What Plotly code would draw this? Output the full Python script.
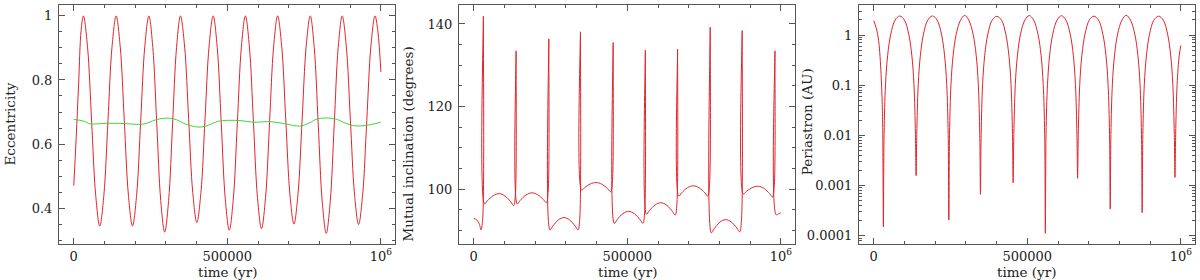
import plotly.graph_objects as go

# inner-orbit eccentricity (red)
t_ecc = [0, 8000, 16000, 24000, 31500,
         44812, 58125, 71438, 84750, 98062, 111375, 124688, 138000,
         151325, 164650, 177975, 191300, 204625, 217950, 231275, 244600,
         257462, 270325, 283188, 296050, 308912, 321775, 334638, 347500,
         360812, 374125, 387438, 400750, 414062, 427375, 440688, 454000,
         467100, 480200, 493300, 506400, 519500, 532600, 545700, 558800,
         571925, 585050, 598175, 611300, 624425, 637550, 650675, 663800,
         677075, 690350, 703625, 716900, 730175, 743450, 756725, 770000,
         783000, 796000, 809000, 822000, 835000, 848000, 861000, 874000,
         887350, 900700, 914050, 927400, 940750, 954100, 967450, 980800,
         990000, 1000000]
ecc_inner = [0.47, 0.62, 0.79, 0.955, 1.0,
             0.904, 0.672, 0.440, 0.344, 0.440, 0.672, 0.904, 1.0,
             0.904, 0.672, 0.440, 0.344, 0.440, 0.672, 0.904, 1.0,
             0.901, 0.6625, 0.424, 0.325, 0.424, 0.6625, 0.901, 1.0,
             0.906, 0.6775, 0.449, 0.355, 0.449, 0.6775, 0.906, 1.0,
             0.902, 0.6655, 0.429, 0.331, 0.429, 0.6655, 0.902, 1.0,
             0.903, 0.668, 0.433, 0.336, 0.433, 0.668, 0.903, 1.0,
             0.905, 0.675, 0.445, 0.350, 0.445, 0.675, 0.905, 1.0,
             0.901, 0.6605, 0.420, 0.321, 0.420, 0.6605, 0.901, 1.0,
             0.905, 0.6745, 0.444, 0.349, 0.444, 0.6745, 0.905, 1.0,
             0.953, 0.825]

# outer-orbit eccentricity (green)
t_outer = [0, 30000, 55000, 110000, 165000, 225000, 265000, 290000, 325000,
           365000, 405000, 430000, 470000, 500000, 545000, 585000, 640000,
           690000, 735000, 765000, 795000, 850000, 885000, 915000, 950000,
           1000000]
ecc_outer = [0.677, 0.672, 0.663, 0.665, 0.664, 0.662, 0.675, 0.680, 0.679,
             0.662, 0.653, 0.656, 0.671, 0.674, 0.673, 0.668, 0.670,
             0.663, 0.656, 0.665, 0.679, 0.679, 0.665, 0.657, 0.658,
             0.668]

# mutual inclination (degrees)
t_incl = [0, 10000, 18000, 23500, 29000, 31500, 35000,
          44500, 63500, 82500, 101500, 120500, 130000, 135500, 138000, 141500,
          151010, 170030, 189050, 208070, 227090, 236600, 242100, 244600, 248100,
          257240, 275520, 293800, 312080, 330360, 339500, 345000, 347500, 351000,
          360500, 379500, 398500, 417500, 436500, 446000, 451500, 454000, 457500,
          466830, 485490, 504150, 522810, 541470, 550800, 556300, 558800, 562300,
          571650, 590350, 609050, 627750, 646450, 655800, 661300, 663800, 667300,
          676770, 695710, 714650, 733590, 752530, 762000, 767500, 770000, 773500,
          782750, 801250, 819750, 838250, 856750, 866000, 871500, 874000, 877500,
          887030, 906090, 925150, 944210, 963270, 972800, 978300, 980800, 984300,
          992000, 1000000]
incl = [92.9, 92.5, 91.6, 90.1, 92.6, 141.9, 96.4,
        97.17, 98.42, 98.9, 98.35, 96.90, 96.0, 98.5, 133.5, 96.4,
        97.23, 98.58, 99.1, 98.64, 97.44, 96.7, 99.2, 136.4, 90.1,
        91.03, 92.53, 93.1, 92.53, 91.03, 90.1, 92.6, 138.1, 99.75,
        100.32, 101.25, 101.6, 101.17, 100.05, 99.35, 101.85, 135.5, 91.7,
        92.60, 94.05, 94.6, 94.05, 92.60, 91.7, 94.2, 133.7, 93.9,
        94.77, 96.17, 96.7, 96.13, 94.63, 93.7, 96.2, 133.9, 98.3,
        99.07, 100.32, 100.8, 100.32, 99.07, 98.3, 100.8, 139.2, 89.4,
        90.39, 91.99, 92.6, 92.04, 90.56, 89.65, 92.15, 138.4, 98.8,
        99.39, 100.34, 100.7, 100.20, 98.90, 98.1, 100.6, 133.5, 93.8,
        94.0, 94.3]

# periastron distance (AU)
t_peri = [0, 8000, 16000, 24000, 27500, 29300, 31500,
          33700, 38500, 45500, 55500, 69500, 84750, 100000, 114000, 124000, 131000, 135800, 138000,
          140200, 145000, 152000, 162000, 176000, 191300, 206600, 220600, 230600, 237600, 242400, 244600,
          246800, 251600, 258600, 268600, 282600, 296050, 309500, 323500, 333500, 340500, 345300, 347500,
          349700, 354500, 361500, 371500, 385500, 400750, 416000, 430000, 440000, 447000, 451800, 454000,
          456200, 461000, 468000, 478000, 492000, 506400, 520800, 534800, 544800, 551800, 556600, 558800,
          561000, 565800, 572800, 582800, 596800, 611300, 625800, 639800, 649800, 656800, 661600, 663800,
          666000, 670800, 677800, 687800, 701800, 716900, 732000, 746000, 756000, 763000, 767800, 770000,
          772200, 777000, 784000, 794000, 808000, 822000, 836000, 850000, 860000, 867000, 871800, 874000,
          876200, 881000, 888000, 898000, 912000, 927400, 942800, 956800, 966800, 973800, 978600, 980800,
          983000, 987800, 994800, 1000000]
peri = [1.93, 1.39, 0.77, 0.165, 0.048, 0.0145, 0.00015,
        0.0104, 0.104, 0.397, 1.039, 1.979, 2.394, 1.979, 1.039, 0.397, 0.104, 0.0104, 0.00158,
        0.0104, 0.104, 0.397, 1.039, 1.979, 2.394, 1.979, 1.039, 0.397, 0.104, 0.0104, 0.000207,
        0.0104, 0.104, 0.397, 1.039, 1.979, 2.464, 1.979, 1.039, 0.397, 0.104, 0.0104, 0.00067,
        0.0104, 0.104, 0.397, 1.039, 1.979, 2.354, 1.979, 1.039, 0.397, 0.104, 0.0104, 0.00114,
        0.0104, 0.104, 0.397, 1.039, 1.979, 2.442, 1.979, 1.039, 0.397, 0.104, 0.0104, 0.000112,
        0.0104, 0.104, 0.397, 1.039, 1.979, 2.424, 1.979, 1.039, 0.397, 0.104, 0.0104, 0.0014,
        0.0104, 0.104, 0.397, 1.039, 1.979, 2.373, 1.979, 1.039, 0.397, 0.104, 0.0104, 0.00034,
        0.0104, 0.104, 0.397, 1.039, 1.979, 2.478, 1.979, 1.039, 0.397, 0.104, 0.0104, 0.00029,
        0.0104, 0.104, 0.397, 1.039, 1.979, 2.376, 1.979, 1.039, 0.397, 0.104, 0.0104, 0.00146,
        0.0104, 0.104, 0.397, 0.62]

x_tickvals = [0, 500000, 1000000]
x_ticktext = ["0", "500000", "10<sup>6</sup>"]
peri_tickvals = [0.0001, 0.001, 0.01, 0.1, 1]
peri_ticktext = ["0.0001", "0.001", "0.01", "0.1", "1"]

RED = "#e0242c"
GREEN = "#3ed63e"
FONT = dict(family="DejaVu Serif", size=13, color="#222222")
TFONT = dict(family="DejaVu Serif", size=13.5, color="#222222")

fig = go.Figure()

fig.add_trace(go.Scatter(x=t_ecc, y=ecc_inner, mode="lines",
                         line=dict(color=RED, width=1, shape="spline"),
                         xaxis="x", yaxis="y"))
fig.add_trace(go.Scatter(x=t_outer, y=ecc_outer, mode="lines",
                         line=dict(color=GREEN, width=1, shape="spline"),
                         xaxis="x", yaxis="y"))
fig.add_trace(go.Scatter(x=t_incl, y=incl, mode="lines",
                         line=dict(color=RED, width=1, shape="spline"),
                         xaxis="x2", yaxis="y2"))
fig.add_trace(go.Scatter(x=t_peri, y=peri, mode="lines",
                         line=dict(color=RED, width=1, shape="spline"),
                         xaxis="x3", yaxis="y3"))

frame = dict(showgrid=False, zeroline=False, showline=True,
             linecolor="#555555", linewidth=1, mirror="allticks",
             ticks="inside", ticklen=6, tickcolor="#555555", tickwidth=1,
             tickfont=FONT)

xstyle = dict(frame, range=[-48000, 1046000], tickmode="array",
              tickvals=x_tickvals, ticktext=x_ticktext,
              minor=dict(ticks="inside", ticklen=3, tickcolor="#555555",
                         tickmode="linear", tick0=0, dtick=100000))

minor_log = [k * 10.0 ** n for n in range(-5, 1) for k in range(2, 10)]


def side_title(text, x, y, angle=-90):
    return dict(text=text, x=x, y=y, xref="paper", yref="paper",
                textangle=angle, showarrow=False, font=TFONT,
                xanchor="center", yanchor="middle")


fig.update_layout(
    width=1200, height=280,
    margin=dict(l=59, r=5, t=5, b=36),
    paper_bgcolor="white", plot_bgcolor="white",
    showlegend=False,
    xaxis=dict(xstyle, domain=[0, 0.2958], anchor="y"),
    xaxis2=dict(xstyle, domain=[0.3521, 0.6479], anchor="y2"),
    xaxis3=dict(xstyle, domain=[0.7042, 1.0], anchor="y3"),
    yaxis=dict(frame, anchor="x", range=[0.288, 1.034], tickmode="array",
               tickvals=[0.4, 0.6, 0.8, 1.0], ticktext=["0.4", "0.6", "0.8", "1"],
               ticklabelstandoff=3,
               minor=dict(ticks="inside", ticklen=3, tickcolor="#555555",
                          tickmode="linear", tick0=0, dtick=0.05)),
    yaxis2=dict(frame, anchor="x2", range=[86.7, 144.6], tickmode="array",
                tickvals=[100, 120, 140], ticklabelstandoff=3,
                minor=dict(ticks="inside", ticklen=3, tickcolor="#555555",
                           tickmode="linear", tick0=0, dtick=5)),
    yaxis3=dict(frame, anchor="x3", type="log", range=[-4.163, 0.598],
                tickmode="array", tickvals=peri_tickvals, ticktext=peri_ticktext,
                ticklabelstandoff=3,
                minor=dict(ticks="inside", ticklen=3, tickcolor="#555555",
                           tickmode="array", tickvals=minor_log)),
    annotations=[
        side_title("Eccentricity", -0.044, 0.5),
        side_title("Mutual inclination (degrees)", 0.3072, 0.42),
        side_title("Periastron (AU)", 0.6585, 0.51),
        side_title("time (yr)", 0.1479, -0.117, 0),
        side_title("time (yr)", 0.5, -0.117, 0),
        side_title("time (yr)", 0.8521, -0.117, 0),
    ],
)

# the page's default body margin would shift the 1200x280 figure out of the window
fig.write_html("out.html", config={"displayModeBar": False},
               post_script="document.body.style.margin='0';")
